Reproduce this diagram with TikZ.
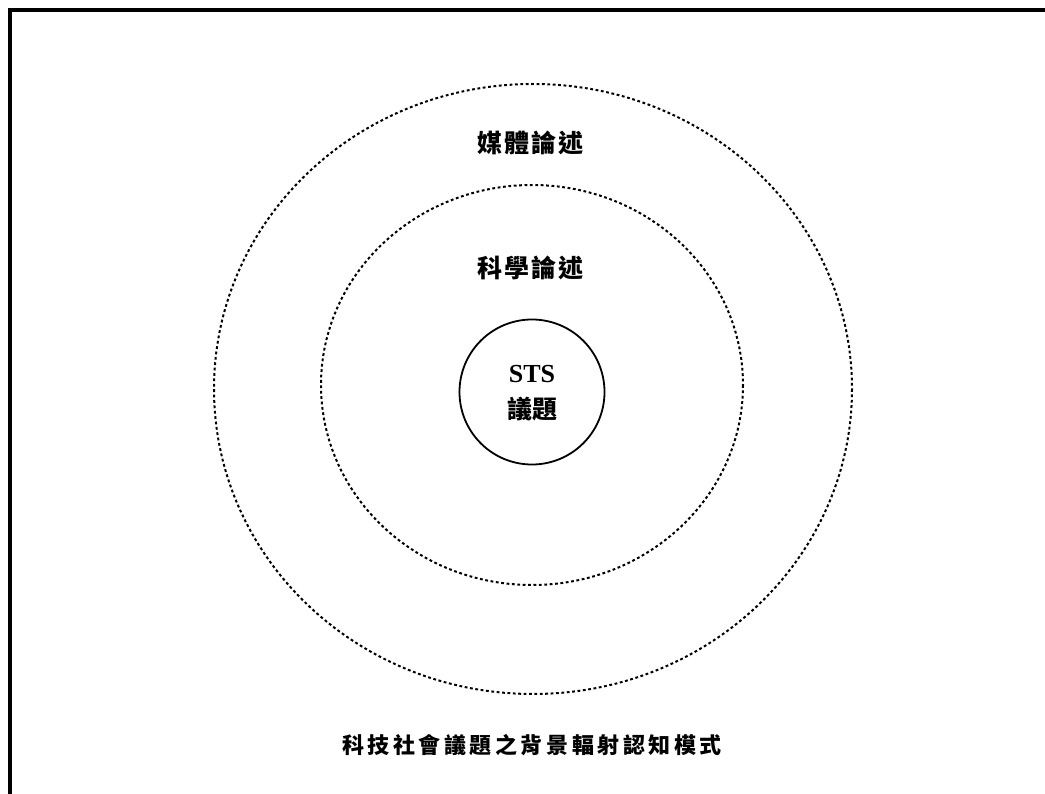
\documentclass[tikz,border=0pt]{standalone}
\usepackage{fontspec}
\setmainfont{Liberation Serif}
\newfontfamily\cjk{Noto Sans CJK TC}
\begin{document}
\begin{tikzpicture}[x=1pt,y=-1pt,
  dotring/.style={draw=black,line width=2pt,dash pattern=on 2.8pt off 2.6pt},
  cjklabel/.style={font=\cjk\fontsize{25}{28}\selectfont\bfseries\addfontfeature{LetterSpace=8},inner sep=0pt},
  frameline/.style={line width=4pt,black}]
\useasboundingbox (0,0) rectangle (1045,794);
\coordinate (tl) at (10,10);
\coordinate (tr) at (1045,10);
\coordinate (bl) at (10,794);
\draw[frameline] (tr) -- (tl) -- (bl);
\draw[dotring] (533,389) ellipse [x radius=319, y radius=305];
\draw[dotring] (532,385) ellipse [x radius=211, y radius=200];
\node[draw,circle,line width=1.8pt,minimum size=145pt,inner sep=0pt] (sts) at (532,392) {};
\node[font=\fontsize{26}{28}\selectfont\bfseries,inner sep=0pt] (stst) at (532,374) {STS};
\node[cjklabel] (media) at (530,143) {媒體論述};
\node[cjklabel] (sci) at (530,268) {科學論述};
\node[font=\cjk\fontsize{25}{28}\selectfont\bfseries,inner sep=0pt] (issue) at (532,409) {議題};
\node[font=\cjk\fontsize{22}{24}\selectfont\bfseries\addfontfeature{LetterSpace=16},inner sep=0pt] (cap) at (532,745) {科技社會議題之背景輻射認知模式};
\end{tikzpicture}
\end{document}
